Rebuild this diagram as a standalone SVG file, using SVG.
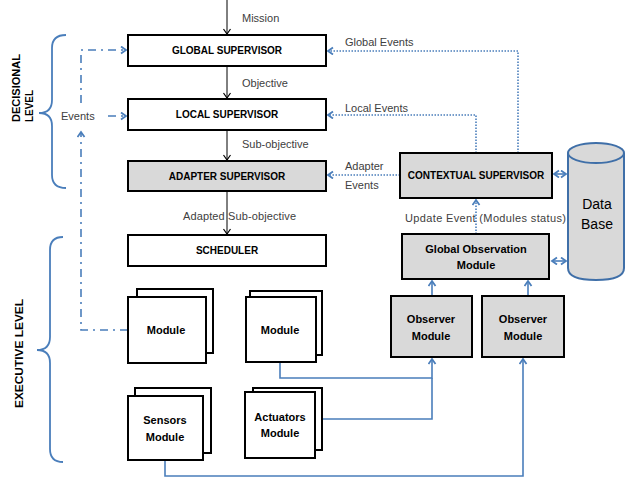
<svg xmlns="http://www.w3.org/2000/svg" width="625" height="480" viewBox="0 0 625 480">
<style>
text{font-family:"Liberation Sans",Arial,sans-serif;fill:#000}
.nl{font-size:10px;font-weight:bold;text-anchor:middle}
.ml{font-size:11px;font-weight:bold;text-anchor:middle}
.lb{font-size:11px;fill:#404040}
.box{fill:#fff;stroke:#000;stroke-width:2}
.gbox{fill:#d9d9d9;stroke:#000;stroke-width:2}
.blk{fill:none;stroke:#000;stroke-width:1}
.bl{fill:none;stroke:#4a7ebb;stroke-width:1.6}
.dot{fill:none;stroke:#4a7ebb;stroke-width:1.6;stroke-dasharray:1.5 1.5}
.dd{fill:none;stroke:#4a7ebb;stroke-width:1.6;stroke-dasharray:8 5 2 5}
.brace{fill:none;stroke:#4a7ebb;stroke-width:1.8}
</style>
<defs>
<marker id="ab" markerUnits="userSpaceOnUse" markerWidth="10" markerHeight="10" refX="6" refY="4" orient="auto"><path d="M1,0.5 L6,4 L1,7.5" fill="none" stroke="#000" stroke-width="1.2"/></marker>
<marker id="au" markerUnits="userSpaceOnUse" markerWidth="10" markerHeight="10" refX="6" refY="4" orient="auto-start-reverse"><path d="M1,0.5 L6,4 L1,7.5" fill="none" stroke="#4a7ebb" stroke-width="1.8"/></marker>
</defs>

<g id="braces">
<path class="brace" d="M66,35 Q52,35 52,48 L52,100 Q52,113 39,113 Q52,113 52,126 L52,175 Q52,188 66,188"/>
<path class="brace" d="M63,237 Q50,237 50,250 L50,337 Q50,350 37,350 Q50,350 50,363 L50,449 Q50,462 63,462"/>
<text transform="translate(20,122) rotate(-90)" font-size="11" font-weight="bold" textLength="68" lengthAdjust="spacingAndGlyphs">DECISIONAL</text>
<text transform="translate(33,122) rotate(-90)" font-size="11" font-weight="bold" textLength="32" lengthAdjust="spacingAndGlyphs">LEVEL</text>
<text transform="translate(23,408) rotate(-90)" font-size="11.5" font-weight="bold" textLength="109" lengthAdjust="spacingAndGlyphs">EXECUTIVE LEVEL</text>
</g>

<g id="connectors">
<path class="blk" d="M227,0 L227,34" marker-end="url(#ab)"/>
<path class="blk" d="M227,66 L227,98" marker-end="url(#ab)"/>
<path class="blk" d="M227,130 L227,160" marker-end="url(#ab)"/>
<path class="blk" d="M227,191 L227,234" marker-end="url(#ab)"/>
<text class="lb" x="242" y="22">Mission</text>
<text class="lb" x="242" y="87">Objective</text>
<text class="lb" x="242" y="148">Sub-objective</text>
<text class="lb" x="183" y="220" textLength="113">Adapted Sub-objective</text>

<path class="dot" d="M518,153 L518,51 L328,51" marker-end="url(#au)"/>
<path class="dot" d="M476,153 L476,115 L328,115" marker-end="url(#au)"/>
<path class="dot" d="M400,175 L328,175" marker-end="url(#au)"/>
<path class="dot" d="M476,234 L476,200" marker-end="url(#au)"/>
<text class="lb" x="345" y="46">Global Events</text>
<text class="lb" x="345" y="112">Local Events</text>
<text class="lb" x="345" y="170">Adapter</text>
<text class="lb" x="345" y="189">Events</text>
<text class="lb" x="405" y="222" textLength="161">Update Event (Modules status)</text>

<path class="dd" d="M128,330 L81,330 L81,132" marker-end="url(#au)"/>
<path class="dd" d="M81,103 L81,50 L126,50" marker-end="url(#au)"/>
<path class="dd" d="M108,116 L126,116" marker-end="url(#au)"/>
<text class="lb" x="61" y="120">Events</text>

<path class="bl" d="M280,363 L280,378 L432,378 L432,359" marker-end="url(#au)"/>
<path class="bl" d="M322,419 L432,419 L432,378"/>
<path class="bl" d="M165,460 L165,476 L523,476 L523,359" marker-end="url(#au)"/>
<path class="bl" d="M432,296 L432,281" marker-end="url(#au)"/>
<path class="bl" d="M528,296 L528,281" marker-end="url(#au)"/>
<path class="bl" d="M554,174 L566,174" marker-start="url(#au)" marker-end="url(#au)"/>
<path class="bl" d="M552,261 L566,261" marker-start="url(#au)" marker-end="url(#au)"/>
</g>

<g id="global-supervisor"><rect class="box" x="128" y="35" width="198" height="31"/><text class="nl" x="227" y="54">GLOBAL SUPERVISOR</text></g>
<g id="local-supervisor"><rect class="box" x="128" y="99" width="198" height="31"/><text class="nl" x="227" y="118">LOCAL SUPERVISOR</text></g>
<g id="adapter-supervisor"><rect class="gbox" x="128" y="161" width="198" height="30"/><text class="nl" x="227" y="180">ADAPTER SUPERVISOR</text></g>
<g id="scheduler"><rect class="box" x="128" y="235" width="198" height="31"/><text class="nl" x="227" y="254">SCHEDULER</text></g>
<g id="contextual-supervisor"><rect class="gbox" x="400" y="153" width="152" height="45"/><text class="nl" x="476" y="179">CONTEXTUAL SUPERVISOR</text></g>
<g id="global-observation"><rect class="gbox" x="402" y="234" width="147" height="45"/><text class="ml" x="476" y="253">Global Observation</text><text class="ml" x="476" y="269">Module</text></g>
<g id="observer-1"><rect class="gbox" x="391" y="296" width="81" height="61"/><text class="ml" x="431" y="323">Observer</text><text class="ml" x="431" y="340">Module</text></g>
<g id="observer-2"><rect class="gbox" x="482" y="296" width="82" height="61"/><text class="ml" x="523" y="323">Observer</text><text class="ml" x="523" y="340">Module</text></g>

<g id="module-1"><rect class="box" x="137" y="289" width="76" height="64"/><rect class="box" x="128" y="297" width="78" height="66"/><text class="ml" x="166" y="334">Module</text></g>
<g id="module-2"><rect class="box" x="250" y="291" width="72" height="64"/><rect class="box" x="246" y="297" width="70" height="65"/><text class="ml" x="280" y="334">Module</text></g>
<g id="sensors-module"><rect class="box" x="135" y="388" width="76" height="65"/><rect class="box" x="128" y="396" width="75" height="64"/><text class="ml" x="165" y="424">Sensors</text><text class="ml" x="165" y="441">Module</text></g>
<g id="actuators-module"><rect class="box" x="253" y="388" width="69" height="62"/><rect class="box" x="245" y="392" width="70" height="66"/><text class="ml" x="280" y="421">Actuators</text><text class="ml" x="280" y="437">Module</text></g>

<g id="database">
<path d="M568,153 L568,268 Q568,280 596,280 Q624,280 624,268 L624,153" fill="#d9d9d9" stroke="#3f6fa8" stroke-width="2"/>
<ellipse cx="596" cy="153" rx="28" ry="10" fill="#d9d9d9" stroke="#3f6fa8" stroke-width="2"/>
<text x="597" y="209" font-size="14" text-anchor="middle" fill="#333">Data</text>
<text x="597" y="229" font-size="14" text-anchor="middle" fill="#333">Base</text>
</g>
</svg>
